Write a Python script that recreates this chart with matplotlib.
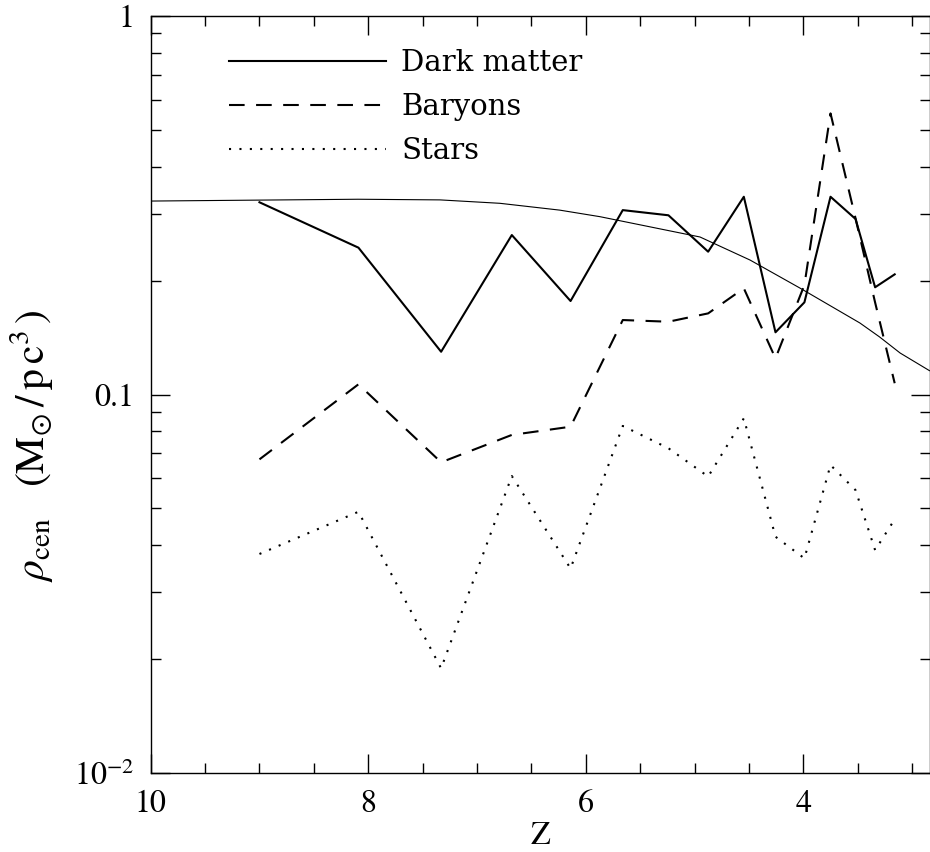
import matplotlib
matplotlib.use("Agg")
import matplotlib.pyplot as plt
from matplotlib.ticker import FixedLocator, FixedFormatter, NullFormatter

plt.rcParams['font.family'] = ['STIXGeneral', 'DejaVu Serif']
plt.rcParams['mathtext.fontset'] = 'stix'

# Smooth dark-matter curve (thin)
z_smooth = [10.0, 8.095, 7.34, 6.79, 6.24, 5.87, 4.95, 4.49, 4.03, 3.48, 3.30, 3.11, 2.84]
rho_smooth = [0.3244, 0.328, 0.3267, 0.320, 0.307, 0.295, 0.2607, 0.2266, 0.191, 0.1545, 0.142, 0.1287, 0.1156]

# Simulation outputs
z = [9.0, 8.09, 7.33, 6.68, 6.14, 5.66, 5.24, 4.875, 4.547, 4.256, 3.99, 3.75, 3.52, 3.34, 3.16]
rho_dm = [0.322, 0.2443, 0.1297, 0.2638, 0.1766, 0.307, 0.2975, 0.2384, 0.333, 0.146, 0.1752, 0.333, 0.2909, 0.192, 0.2077]
rho_bar = [0.0674, 0.1064, 0.0662, 0.0782, 0.0822, 0.1573, 0.1557, 0.1638, 0.1908, 0.1246, 0.1947, 0.553, 0.292, 0.175, 0.1071]
rho_star = [0.0379, 0.049, 0.0189, 0.0609, 0.0347, 0.0826, 0.0721, 0.0607, 0.0865, 0.0421, 0.0369, 0.0651, 0.0559, 0.0388, 0.0468]

labels = ["Dark matter", "Baryons", "Stars"]
xmajor = [10, 8, 6, 4]
xmajor_labels = ["10", "8", "6", "4"]
ymajor = [0.01, 0.1, 1.0]
ymajor_labels = [r"$10^{-2}$", "0.1", "1"]

fig = plt.figure(figsize=(9.30, 8.52), dpi=100)
ax = fig.add_axes([150.7/930, 79/852, (929.5-150.7)/930, (773-16)/852])

ax.plot(z_smooth, rho_smooth, color='black', lw=0.8)
ax.plot(z, rho_dm, color='black', lw=1.5, ls='-', label=labels[0])
ax.plot(z, rho_bar, color='black', lw=1.5, ls=(0, (7.5, 5.5)), label=labels[1])
ax.plot(z, rho_star, color='black', lw=1.5, ls=(0, (1.0, 4.0)), label=labels[2])

ax.set_yscale('log')
ax.set_xlim(10, 2.84)
ax.set_ylim(0.01, 1.0)

ax.xaxis.set_major_locator(FixedLocator(xmajor))
ax.xaxis.set_major_formatter(FixedFormatter(xmajor_labels))
ax.xaxis.set_minor_locator(FixedLocator([10 - 0.5*i for i in range(15)]))
ax.xaxis.set_minor_formatter(NullFormatter())
ax.yaxis.set_major_locator(FixedLocator(ymajor))
ax.yaxis.set_major_formatter(FixedFormatter(ymajor_labels))
ax.yaxis.set_minor_locator(FixedLocator([m*d for d in (0.01, 0.1) for m in range(2, 10)]))
ax.yaxis.set_minor_formatter(NullFormatter())

ax.tick_params(which='both', direction='in', top=True, right=True, width=1.0, colors='black')
ax.tick_params(which='major', length=14, labelsize=23, pad=12)
ax.tick_params(which='minor', length=7)
for s in ax.spines.values():
    s.set_linewidth(1.0)

ax.set_xlabel("Z", fontsize=23, labelpad=2)
fig.text(32/930, 1 - 446/852,
         r"$\rho_{\rm cen}\ \ \ ({\rm M}_{\odot}\,/\,{\rm p\,c}^{3}\,)$",
         rotation=90, fontsize=30, ha='center', va='center')

leg = ax.legend(loc='upper left', bbox_to_anchor=((229-150.7)/779, (773-49)/757),
                frameon=False, prop={'family': 'DejaVu Serif', 'size': 21},
                handlelength=5.4, handletextpad=0.5,
                labelspacing=0.55, borderpad=0, borderaxespad=0)

fig.savefig("out.png", dpi=100)
